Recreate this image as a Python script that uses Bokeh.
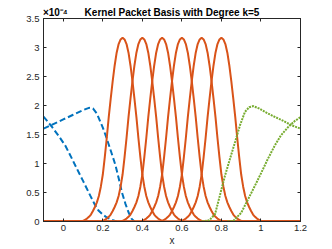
from bokeh.plotting import figure
from bokeh.models import Range1d, FixedTicker, LinearAxis
from bokeh.embed import file_html
from bokeh.resources import INLINE

# ---- data (y in units of 1e-4, as shown on the axis) ----
x_ticks = [0, 0.2, 0.4, 0.6, 0.8, 1.0, 1.2]
x_tick_labels = ["0", "0.2", "0.4", "0.6", "0.8", "1", "1.2"]
y_ticks = [0, 0.5, 1.0, 1.5, 2.0, 2.5, 3.0, 3.5]
y_tick_labels = ["0", "0.5", "1", "1.5", "2", "2.5", "3", "3.5"]

# interior kernel packets (orange): same read profile, centred at these grid points
kp_centers = [0.3, 0.4, 0.5, 0.6, 0.7, 0.8]
kp_offsets = [0.00, 0.01, 0.02, 0.03, 0.04, 0.05, 0.06, 0.07, 0.08, 0.09, 0.10,
              0.11, 0.12, 0.13, 0.14, 0.15, 0.16, 0.17, 0.18, 0.19, 0.20, 0.21]
kp_profile = [3.17, 3.14, 3.06, 2.91, 2.69, 2.42, 2.12, 1.80, 1.44, 1.11, 0.81,
              0.60, 0.44, 0.33, 0.25, 0.18, 0.12, 0.08, 0.05, 0.03, 0.01, 0.0]

# left boundary packets (blue, dashed)
left_a_x = [-0.1, -0.057, -0.02, 0.01, 0.04, 0.069, 0.10, 0.136, 0.16, 0.178, 0.20, 0.22, 0.245, 0.27]
left_a_y = [1.81, 1.63, 1.46, 1.31, 1.11, 0.91, 0.70, 0.45, 0.29, 0.19, 0.12, 0.07, 0.03, 0.0]
left_b_x = [-0.1, -0.05, 0.0, 0.05, 0.10, 0.13, 0.15, 0.17, 0.20, 0.22, 0.25, 0.264, 0.28, 0.297, 0.315, 0.33, 0.345, 0.36]
left_b_y = [1.60, 1.68, 1.76, 1.84, 1.92, 1.96, 1.95, 1.86, 1.62, 1.43, 1.12, 0.97, 0.75, 0.50, 0.30, 0.16, 0.05, 0.0]

# right boundary packets (green, dotted)
right_c_x = [0.70, 0.739, 0.768, 0.79, 0.818, 0.845, 0.869, 0.894, 0.919, 0.94, 0.961, 0.99, 1.02, 1.06, 1.104, 1.155, 1.2]
right_c_y = [0.0, 0.02, 0.13, 0.42, 0.79, 1.10, 1.37, 1.66, 1.89, 1.97, 1.99, 1.95, 1.89, 1.82, 1.75, 1.66, 1.60]
right_d_x = [0.83, 0.86, 0.90, 0.936, 0.97, 1.003, 1.035, 1.07, 1.10, 1.138, 1.17, 1.2]
right_d_y = [0.0, 0.01, 0.15, 0.39, 0.62, 0.85, 1.08, 1.31, 1.48, 1.63, 1.73, 1.80]

title_text = "Kernel Packet Basis with Degree k=5"
x_label = "x"
exp_text = "×10⁻⁴"

x_min, x_max = -0.1, 1.2
y_min, y_max = 0.0, 3.5

# where the header texts sit along the top edge (x data units)
exp_pos = -0.04
title_pos = 0.55

BLUE = "#0072BD"
ORANGE = "#D95319"
GREEN = "#77AC30"
AX = "#262626"
FONT = "Liberation Sans"

p = figure(width=324, height=249, output_backend="svg", toolbar_location=None,
           x_range=Range1d(x_min, x_max), y_range=Range1d(y_min, y_max),
           min_border_left=43, min_border_right=24, min_border_top=18, min_border_bottom=28)
p.background_fill_color = "white"
p.border_fill_color = "white"
p.outline_line_color = AX
p.xgrid.grid_line_color = None
p.ygrid.grid_line_color = None
p.title.text = ""

# blue boundary curves
p.line(left_a_x, left_a_y, line_color=BLUE, line_width=2, line_dash="6 3")
p.line(left_b_x, left_b_y, line_color=BLUE, line_width=2, line_dash="6 3")

# orange interior curves
for c in kp_centers:
    xs = [x_min] + [c - d for d in reversed(kp_offsets[1:])] + [c + d for d in kp_offsets] + [x_max]
    ys = [0.0] + list(reversed(kp_profile[1:])) + kp_profile + [0.0]
    p.line(xs, ys, line_color=ORANGE, line_width=2)

# green boundary curves
p.line(right_c_x, right_c_y, line_color=GREEN, line_width=2, line_dash="2 1")
p.line(right_d_x, right_d_y, line_color=GREEN, line_width=2, line_dash="2 1")


def style_axis(ax, ticks, labels, size="9.5px"):
    ax.ticker = FixedTicker(ticks=ticks)
    ax.minor_tick_line_color = None
    ax.major_tick_in = 3
    ax.major_tick_out = 0
    ax.axis_line_color = AX
    ax.major_tick_line_color = AX
    ax.major_label_text_color = AX
    ax.major_label_text_font = FONT
    ax.major_label_text_font_size = size
    ax.major_label_overrides = dict(zip(ticks, labels))


style_axis(p.xaxis[0], x_ticks, x_tick_labels)
p.xaxis[0].major_label_standoff = 3
p.xaxis[0].axis_label = x_label
p.xaxis[0].axis_label_text_font = FONT
p.xaxis[0].axis_label_text_font_size = "10px"
p.xaxis[0].axis_label_text_font_style = "normal"
p.xaxis[0].axis_label_text_color = AX
p.xaxis[0].axis_label_standoff = 1
style_axis(p.yaxis[0], y_ticks, y_tick_labels)
p.yaxis[0].major_label_standoff = 4

# top edge of the box: inward ticks (as minor ticks) plus the header texts
top_axis = LinearAxis()
top_axis.ticker = FixedTicker(ticks=[exp_pos, title_pos], minor_ticks=x_ticks)
top_axis.axis_line_color = AX
top_axis.major_tick_line_color = None
top_axis.minor_tick_line_color = AX
top_axis.minor_tick_in = 3
top_axis.minor_tick_out = 0
top_axis.major_tick_in = 0
top_axis.major_tick_out = 0
top_axis.major_label_overrides = {exp_pos: exp_text, title_pos: title_text}
top_axis.major_label_text_font = FONT
top_axis.major_label_text_font_size = "10px"
top_axis.major_label_text_font_style = "bold"
top_axis.major_label_text_color = "black"
top_axis.major_label_text_line_height = 1.0
top_axis.major_label_standoff = 1
p.add_layout(top_axis, "above")

right_axis = LinearAxis()
style_axis(right_axis, y_ticks, [""] * len(y_ticks), size="1px")
right_axis.major_label_standoff = 0
p.add_layout(right_axis, "right")

open("out.html", "w").write(file_html(p, INLINE))
